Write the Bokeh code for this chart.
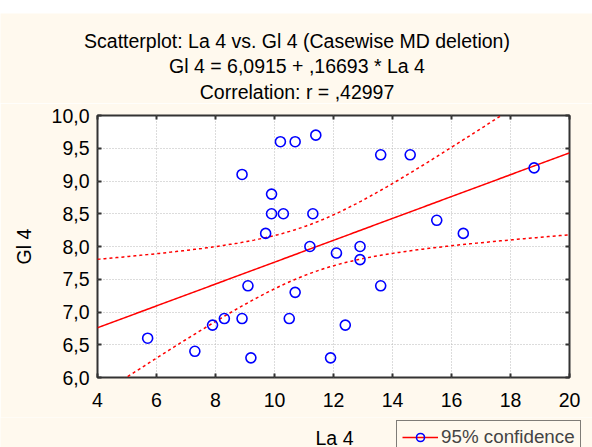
import numpy as np
from bokeh.plotting import figure
from bokeh.layouts import column
from bokeh.models import (FixedTicker, LinearAxis, Legend, LegendItem,
                          Range1d, ColumnDataSource)
from bokeh.core.properties import value
from bokeh.embed import file_html
from bokeh.resources import INLINE

# ---------------- data ----------------
la4 = [5.7, 7.3, 7.9, 8.3, 8.9, 8.9, 9.1, 9.2, 9.7, 9.9, 9.9, 10.2, 10.3, 10.5,
       10.7, 10.7, 11.2, 11.3, 11.4, 11.9, 12.1, 12.4, 12.9, 12.9, 13.6, 13.6,
       14.6, 15.5, 16.4, 18.8]
gl4 = [6.6, 6.4, 6.8, 6.9, 6.9, 9.1, 7.4, 6.3, 8.2, 8.8, 8.5, 9.6, 8.5, 6.9,
       9.6, 7.3, 8.0, 8.5, 9.7, 6.3, 7.9, 6.8, 8.0, 7.8, 9.4, 7.4,
       9.4, 8.4, 8.2, 9.2]
intercept = 6.0915
slope = 0.16693
t_crit = 2.048  # t(0.975, df=28)

x_ticks = [4, 6, 8, 10, 12, 14, 16, 18, 20]
x_tick_labels = ["4", "6", "8", "10", "12", "14", "16", "18", "20"]
y_ticks = [6.0, 6.5, 7.0, 7.5, 8.0, 8.5, 9.0, 9.5, 10.0]
y_tick_labels = ["6,0", "6,5", "7,0", "7,5", "8,0", "8,5", "9,0", "9,5", "10,0"]

title_lines = ["Scatterplot: La 4 vs. Gl 4 (Casewise MD deletion)",
               "Gl 4 = 6,0915 + ,16693 * La 4",
               "Correlation: r = ,42997"]
x_label = "La 4"
y_label = "Gl 4"
legend_label = "95% confidence"

# ---------------- styling ----------------
BG = "#FFF9EE"
FONT = "Liberation Sans"
FS = "19.5px"
DARK = "#333333"
W = 592

x0, x1 = 4, 20
y0, y1 = 6, 10

# ---------- title strip (page-pixel coordinates) ----------
pt = figure(width=W, height=90, output_backend="svg", toolbar_location=None,
            x_range=Range1d(0, W), y_range=Range1d(103, 13),
            x_axis_type=None, y_axis_type=None, min_border=0,
            frame_align=False)
pt.background_fill_color = BG
pt.border_fill_color = BG
pt.outline_line_color = None
pt.text(x=[296.5] * 3, y=[40.5, 65, 91.5], text=title_lines,
        text_align="center", text_baseline="middle",
        text_font=value(FONT), text_font_size=FS, text_color="black")

# ---------- main plot ----------
p = figure(width=W, height=314, output_backend="svg", toolbar_location=None,
           x_range=Range1d(x0, x1), y_range=Range1d(y0, y1),
           min_border_left=97, min_border_right=23,
           min_border_top=12, min_border_bottom=40, frame_align=False)
p.background_fill_color = "white"
p.border_fill_color = BG
p.outline_line_color = DARK
p.outline_line_width = 2

for ax in (p.xaxis[0], p.yaxis[0]):
    ax.axis_line_color = None
    ax.major_tick_in = 4
    ax.major_tick_out = 0
    ax.major_tick_line_color = DARK
    ax.major_tick_line_width = 2
    ax.minor_tick_line_color = None
    ax.major_label_text_font = FONT
    ax.major_label_text_font_size = FS
    ax.major_label_text_color = "black"
    ax.axis_label_text_font = FONT
    ax.axis_label_text_font_size = FS
    ax.axis_label_text_font_style = "normal"
    ax.axis_label_text_color = "black"

p.xaxis.ticker = FixedTicker(ticks=x_ticks)
p.xaxis.major_label_overrides = {t: l for t, l in zip(x_ticks, x_tick_labels)}
p.yaxis.ticker = FixedTicker(ticks=y_ticks)
p.yaxis.major_label_overrides = {t: l for t, l in zip(y_ticks, y_tick_labels)}
p.xaxis.major_label_standoff = 15
p.yaxis.major_label_standoff = 8
p.yaxis.axis_label = y_label
p.yaxis.axis_label_standoff = 14

top_ax = LinearAxis(ticker=FixedTicker(ticks=x_ticks), axis_line_color=None,
                    major_tick_in=4, major_tick_out=0, major_tick_line_color=DARK,
                    major_tick_line_width=2, minor_tick_line_color=None,
                    major_label_text_font_size="0px", major_label_standoff=0,
                    major_label_text_color=None)
right_ax = LinearAxis(ticker=FixedTicker(ticks=y_ticks), axis_line_color=None,
                      major_tick_in=4, major_tick_out=0, major_tick_line_color=DARK,
                      major_tick_line_width=2, minor_tick_line_color=None,
                      major_label_text_font_size="0px", major_label_standoff=0,
                      major_label_text_color=None)
p.add_layout(top_ax, "above")
p.add_layout(right_ax, "right")

for g in (p.xgrid[0], p.ygrid[0]):
    g.grid_line_color = "#b8b8b8"
    g.grid_line_dash = "1 2"
    g.grid_line_width = 1
p.xgrid.ticker = FixedTicker(ticks=x_ticks)
p.ygrid.ticker = FixedTicker(ticks=y_ticks)

# regression line and 95% confidence band
xa = np.array(la4)
ya = np.array(gl4)
n = len(xa)
xbar = xa.mean()
sxx = ((xa - xbar) ** 2).sum()
resid = ya - (intercept + slope * xa)
s = np.sqrt((resid ** 2).sum() / (n - 2))
xs = np.linspace(x0, x1, 200)
fit = intercept + slope * xs
half = t_crit * s * np.sqrt(1.0 / n + (xs - xbar) ** 2 / sxx)

p.line(xs, fit, line_color="#FF0000", line_width=1.5)
p.line(xs, fit + half, line_color="#FF0000", line_width=1.5, line_dash="3 3")
p.line(xs, fit - half, line_color="#FF0000", line_width=1.5, line_dash="3 3")

src = ColumnDataSource(dict(x=la4, y=gl4))
p.scatter("x", "y", source=src, marker="circle", size=10,
          fill_color=None, line_color="#0000FF", line_width=1.6)

# ---------- bottom strip: x-axis title and legend ----------
pb = figure(width=W, height=30, output_backend="svg", toolbar_location=None,
            x_range=Range1d(0, W), y_range=Range1d(447, 417),
            x_axis_type=None, y_axis_type=None, min_border=0,
            frame_align=False)
pb.background_fill_color = BG
pb.border_fill_color = BG
pb.outline_line_color = None
pb.text(x=[334], y=[437], text=[x_label], text_align="center",
        text_baseline="middle", text_font=value(FONT), text_font_size=FS,
        text_color="black")
# legend-only renderers (no visible data)
lg_line = pb.line([np.nan, np.nan], [np.nan, np.nan], line_color="#FF0000",
                  line_width=1.5)
lg_pts = pb.scatter([np.nan], [np.nan], marker="circle", size=10,
                    fill_color=None, line_color="#0000FF", line_width=1.6)
legend = Legend(items=[LegendItem(label=legend_label, renderers=[lg_line, lg_pts])],
                location=(396, -7), orientation="vertical",
                border_line_color="black", border_line_width=1,
                background_fill_color=BG, background_fill_alpha=1,
                label_text_font=FONT, label_text_font_size="18.8px",
                glyph_width=36, glyph_height=20, padding=5, margin=0,
                label_standoff=3, spacing=0)
pb.add_layout(legend, "center")

layout = column(pt, p, pb, spacing=0, margin=(13, 0, 0, 0))
open("out.html", "w").write(file_html(layout, INLINE))
